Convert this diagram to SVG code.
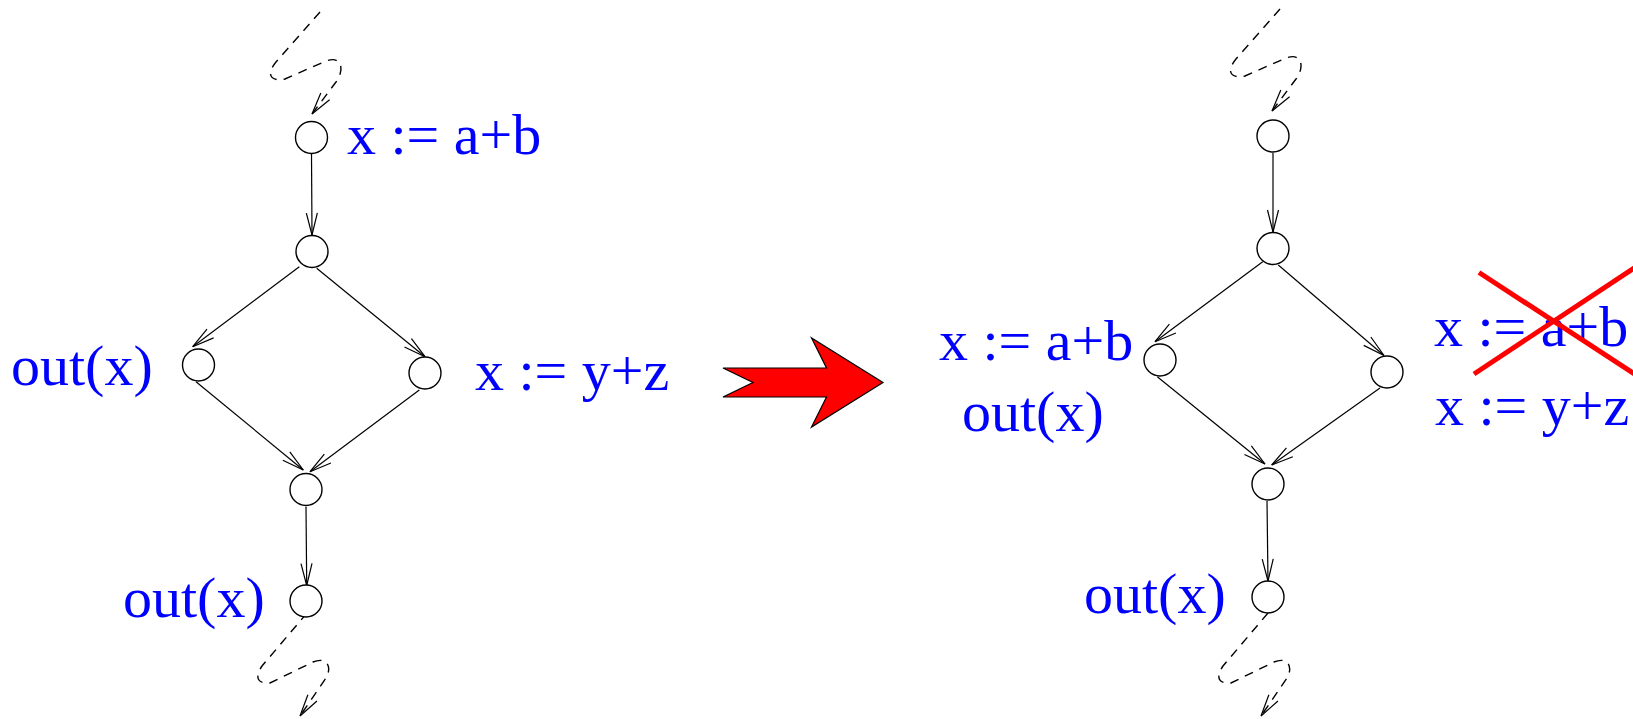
<svg xmlns="http://www.w3.org/2000/svg" width="1633" height="719" viewBox="0 0 1633 719">
<style>
.node{fill:#fff;stroke:#000;stroke-width:1.4}
.edge{fill:none;stroke:#000;stroke-width:1.2;marker-end:url(#ah)}
.dash{fill:none;stroke:#000;stroke-width:1.4;stroke-dasharray:9 7;marker-end:url(#ah)}
.lbl{font-family:"Liberation Serif","Times New Roman",serif;font-size:58px;fill:#0000ff}
.cross{stroke:#ff0000;stroke-width:5;fill:none}
</style>
<defs>
<marker id="ah" markerUnits="userSpaceOnUse" viewBox="-24 -8 26 16" markerWidth="26" markerHeight="16" refX="0" refY="0" orient="auto" overflow="visible">
<path d="M-22,-5.5 L0,0 L-22,5.5" fill="none" stroke="#000" stroke-width="1.2" stroke-dasharray="none"/>
</marker>
</defs>
<rect width="1633" height="719" fill="#fff"/>
<g id="connectors">
<path class="dash" d="M 320 12 L 276 62 C 266 74 270 82 285 79 L 326 61 C 342 55 345 70 336 82 L 312 114"/>
<line class="edge" x1="311.5" y1="154" x2="312" y2="235"/>
<line class="edge" x1="299.3" y1="266.7" x2="192.7" y2="346.7"/>
<line class="edge" x1="316.7" y1="268.3" x2="425" y2="356.7"/>
<line class="edge" x1="196" y1="381.7" x2="303.3" y2="470"/>
<line class="edge" x1="419.3" y1="390" x2="310" y2="471.7"/>
<line class="edge" x1="306" y1="506.7" x2="306.7" y2="585.5"/>
<path class="dash" d="M 307 613 L 262 666 C 254 678 258 684 270 683 L 313 662 C 328 656 332 668 326 678 L 300 716"/>
<path class="dash" d="M 1280 9 L 1236 59 C 1226 71 1230 79 1245 76 L 1286 58 C 1302 52 1305 67 1296 79 L 1272 111"/>
<line class="edge" x1="1273" y1="153" x2="1273" y2="232"/>
<line class="edge" x1="1262.7" y1="261.7" x2="1155" y2="341.7"/>
<line class="edge" x1="1278.3" y1="265" x2="1384" y2="355.5"/>
<line class="edge" x1="1157.3" y1="376.7" x2="1265" y2="464"/>
<line class="edge" x1="1380" y1="388" x2="1271.7" y2="465"/>
<line class="edge" x1="1267" y1="501" x2="1268" y2="581"/>
<path class="dash" d="M 1268 613 L 1223 666 C 1215 678 1219 684 1231 683 L 1274 662 C 1289 656 1293 668 1287 678 L 1261 716"/>
</g>
<g id="left-n1"><circle class="node" cx="311.5" cy="137.5" r="16"/><text class="lbl" x="347" y="154">x := a+b</text></g>
<g id="left-n2"><circle class="node" cx="312" cy="251.5" r="16"/></g>
<g id="left-n3"><circle class="node" cx="198.5" cy="365" r="16"/><text class="lbl" x="11" y="385">out(x)</text></g>
<g id="left-n4"><circle class="node" cx="425" cy="373" r="16"/><text class="lbl" x="475" y="390">x := y+z</text></g>
<g id="left-n5"><circle class="node" cx="306" cy="489.5" r="16"/></g>
<g id="left-n6"><circle class="node" cx="306" cy="601" r="16"/><text class="lbl" x="123" y="617">out(x)</text></g>
<g id="transform-arrow"><polygon points="723,368 753,382.5 723,397 826.5,397 811.5,427 883,382.5 811.5,338 826.5,368" fill="#ff0000" stroke="#000" stroke-width="1.2" stroke-linejoin="miter"/></g>
<g id="right-n1"><circle class="node" cx="1273" cy="136" r="16"/></g>
<g id="right-n2"><circle class="node" cx="1273" cy="248.5" r="16"/></g>
<g id="right-n3"><circle class="node" cx="1160" cy="360" r="16"/><text class="lbl" x="939" y="360">x := a+b</text><text class="lbl" x="962" y="431">out(x)</text></g>
<g id="right-n4"><circle class="node" cx="1387" cy="372" r="16"/><text class="lbl" x="1434" y="346">x := a+b</text><text class="lbl" x="1435" y="425">x := y+z</text>
<line class="cross" x1="1479" y1="272.5" x2="1650" y2="384"/><line class="cross" x1="1474" y1="374" x2="1650" y2="257.4"/></g>
<g id="right-n5"><circle class="node" cx="1268" cy="484" r="16"/></g>
<g id="right-n6"><circle class="node" cx="1268" cy="597" r="16"/><text class="lbl" x="1084" y="613">out(x)</text></g>
</svg>
